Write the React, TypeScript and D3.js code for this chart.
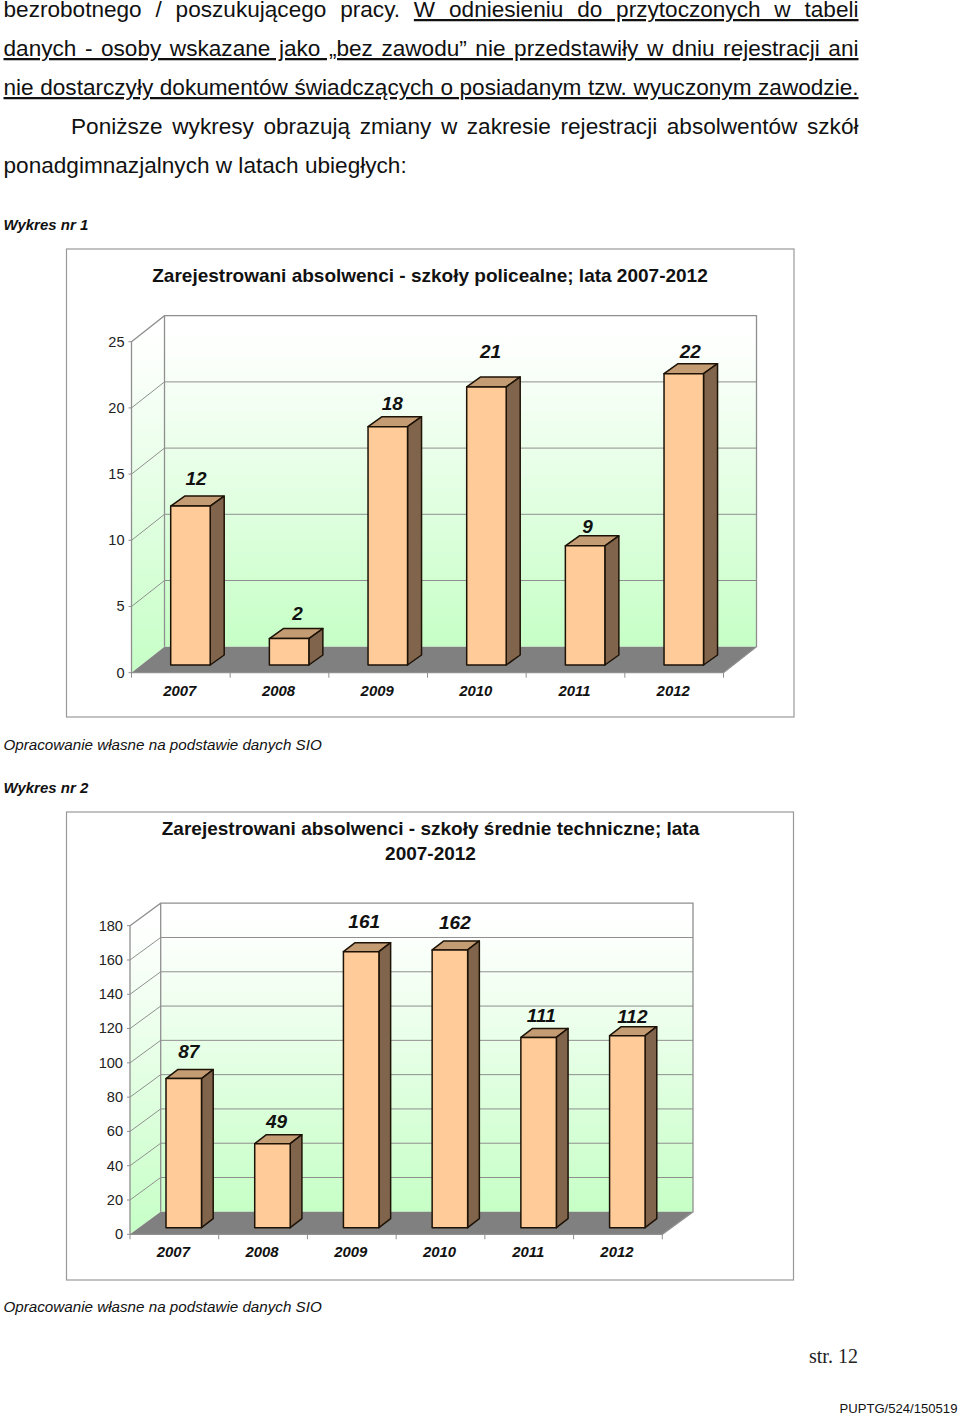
import React, { useEffect, useRef } from "react";
import * as d3 from "d3";

const FONT = "'Liberation Sans', Arial, sans-serif";
const years = ["2007", "2008", "2009", "2010", "2011", "2012"];
const policealneValues = [12, 2, 18, 21, 9, 22];
const policealneTicks = [0, 5, 10, 15, 20, 25];
const policealneLabelDx = [5.5, 8.5, 4.5, 4, 2.5, 6.5];
const policealneLabelDy = [-21, -18.5, -16.5, -29, -12.5, -16];
const techniczneValues = [87, 49, 161, 162, 111, 112];
const techniczneTicks = [0, 20, 40, 60, 80, 100, 120, 140, 160, 180];
const techniczneLabelDx = [5, 4, 3, 5, 2.7, 5];
const techniczneLabelDy = [-20.6, -16, -24, -21, -15, -13];

const bodyPlain1 = "bezrobotnego / poszukującego pracy. ";
const bodyUnder1 = "W odniesieniu do przytoczonych w tabeli";
const bodyLine2 = "danych - osoby wskazane jako „bez zawodu” nie przedstawiły w dniu rejestracji ani";
const bodyLine3 = "nie dostarczyły dokumentów świadczących o posiadanym tzw. wyuczonym zawodzie.";
const bodyLine4 = "Poniższe wykresy obrazują zmiany w zakresie rejestracji absolwentów szkół";
const bodyLine5 = "ponadgimnazjalnych w latach ubiegłych:";
const title1 = ["Zarejestrowani absolwenci - szkoły policealne; lata 2007-2012"];
const title2 = ["Zarejestrowani absolwenci - szkoły średnie techniczne; lata", "2007-2012"];
const sourceNote = "Opracowanie własne na podstawie danych SIO";

type ChartProps = {
  id: string; values: number[]; ticks: number[]; maxV: number;
  labelDx: number[]; labelDy: number[]; title: string[]; titleY: number[];
  frame: [number, number, number, number];
  x0: number; x1: number; y0: number; yMax: number; depthX: number; depthY: number;
  barInset: number; barW: number; barLift: number; barDX: number; barDY: number;
  yearY: number; tickX: number; titleX: number;
};

function Chart3D(p: ChartProps) {
  const y = d3.scaleLinear().domain([0, p.maxV]).range([p.y0, p.yMax]);
  const x = d3.scaleBand<string>().domain(years).range([p.x0, p.x1]);
  const step = x.step();
  const bx0 = p.x0 + p.depthX, bx1 = p.x1 + p.depthX;
  const backY = (v: number) => y(v) + p.depthY;
  const grey = "#8f8f8f";
  const pts = (a: number[][]) => a.map((c) => c.join(",")).join(" ");
  return (
    <g fontFamily={FONT}>
      <defs>
        <linearGradient id={p.id} x1="0" x2="0" y1="0" y2="1">
          <stop offset="0" stopColor="#ffffff" />
          <stop offset="0.1" stopColor="#fdfffd" />
          <stop offset="1" stopColor="#c6ffc6" />
        </linearGradient>
      </defs>
      <rect x={p.frame[0]} y={p.frame[1]} width={p.frame[2] - p.frame[0]} height={p.frame[3] - p.frame[1]}
        fill="#fff" stroke="#999" strokeWidth={1.2} />
      {p.title.map((t, i) => (
        <text key={i} x={p.titleX} y={p.titleY[i]} textAnchor="middle" fontSize={19} fontWeight="bold" fill="#111">{t}</text>
      ))}
      <rect x={bx0} y={backY(p.maxV)} width={bx1 - bx0} height={backY(0) - backY(p.maxV)} fill={`url(#${p.id})`} />
      <polygon points={pts([[p.x0, y(p.maxV)], [bx0, backY(p.maxV)], [bx0, backY(0)], [p.x0, y(0)]])} fill={`url(#${p.id})`} />
      <polygon points={pts([[p.x0, y(0)], [p.x1, y(0)], [bx1, backY(0)], [bx0, backY(0)]])} fill="#808080" />
      {p.ticks.map((t) => (
        <g key={t}>
          {t > 0 && t < p.maxV && <line x1={bx0} x2={bx1} y1={backY(t)} y2={backY(t)} stroke={grey} strokeWidth={1} />}
          {t > 0 && t < p.maxV && <line x1={p.x0} x2={bx0} y1={y(t)} y2={backY(t)} stroke={grey} strokeWidth={1} />}
          <line x1={p.x0 - 3} x2={p.x0} y1={y(t)} y2={y(t)} stroke={grey} strokeWidth={1} />
          <text x={p.tickX} y={y(t) + 4.8} textAnchor="end" fontSize={14.6} fill="#222">{t}</text>
        </g>
      ))}
      <polygon points={pts([[p.x0, y(p.maxV)], [bx0, backY(p.maxV)], [bx1, backY(p.maxV)], [bx1, backY(0)], [p.x1, y(0)], [p.x0, y(0)]])}
        fill="none" stroke={grey} strokeWidth={1.3} />
      <line x1={bx0} x2={bx0} y1={backY(p.maxV)} y2={backY(0)} stroke={grey} strokeWidth={1.3} />
      {d3.range(years.length + 1).map((i) => (
        <line key={i} x1={p.x0 + i * step} x2={p.x0 + i * step} y1={y(0)} y2={y(0) + 5} stroke={grey} strokeWidth={1} />
      ))}
      {years.map((yr) => (
        <text key={yr} x={(x(yr) as number) + step / 2 - 1} y={p.yearY} textAnchor="middle" fontSize={14.9} fontWeight="bold" fontStyle="italic" fill="#111">{yr}</text>
      ))}
      {p.values.map((v, i) => {
        const left = (x(years[i]) as number) + p.barInset;
        const right = left + p.barW;
        const bottom = y(0) - p.barLift;
        const top = y(v) - p.barLift;
        const s = { stroke: "#1d1206", strokeWidth: 1.5, strokeLinejoin: "round" as const };
        return (
          <g key={years[i]}>
            <polygon points={pts([[left, top], [right, top], [right + p.barDX, top + p.barDY], [left + p.barDX, top + p.barDY]])} fill="#c49c74" {...s} />
            <polygon points={pts([[right, top], [right + p.barDX, top + p.barDY], [right + p.barDX, bottom + p.barDY], [right, bottom]])} fill="#80654c" {...s} />
            <rect x={left} y={top} width={p.barW} height={bottom - top} fill="#ffcc99" {...s} />
            <text x={left + p.barW / 2 + p.labelDx[i]} y={top + p.labelDy[i]} textAnchor="middle" fontSize={19} fontWeight="bold" fontStyle="italic" fill="#111">{v}</text>
          </g>
        );
      })}
    </g>
  );
}

function Justified({ x, y, width, children }: { x: number; y: number; width: number; children: React.ReactNode }) {
  const ref = useRef<SVGTextElement>(null);
  useEffect(() => {
    const el = ref.current;
    if (!el) return;
    const sel = d3.select(el);
    sel.style("word-spacing", "0px");
    const natural = el.getComputedTextLength();
    const spaces = ((el.textContent || "").match(/ /g) || []).length;
    sel.style("word-spacing", `${(width - natural) / spaces}px`);
  }, [width]);
  return <text ref={ref} x={x} y={y} xmlSpace="preserve" style={{ whiteSpace: "pre" }} fontSize={22.6} fontFamily={FONT} fill="#111">{children}</text>;
}

export default function App() {
  const meta = { fontFamily: FONT, fill: "#111" };
  return (
    <svg width={960} height={1416} viewBox="0 0 960 1416" style={{ position: "absolute", left: 0, top: 0, background: "#fff" }}>
      <Justified x={3.5} y={17} width={855}>
        {bodyPlain1}<tspan textDecoration="underline">{bodyUnder1}</tspan>
      </Justified>
      <Justified x={3.5} y={56} width={855}><tspan textDecoration="underline">{bodyLine2}</tspan></Justified>
      <Justified x={3.5} y={95} width={855}><tspan textDecoration="underline">{bodyLine3}</tspan></Justified>
      <Justified x={71} y={134} width={787.5}>{bodyLine4}</Justified>
      <text x={3.5} y={173} fontSize={22.6} {...meta}>{bodyLine5}</text>

      <text x={3.5} y={230} fontSize={15} fontWeight="bold" fontStyle="italic" {...meta}>Wykres nr 1</text>
      <Chart3D id="g1" values={policealneValues} ticks={policealneTicks} maxV={25}
        labelDx={policealneLabelDx} labelDy={policealneLabelDy} title={title1} titleY={[282]} titleX={430}
        frame={[66.5, 249, 794, 717]} x0={131.5} x1={723.5} y0={672.7} yMax={341.7} depthX={33} depthY={-26}
        barInset={39.2} barW={39.5} barLift={7.7} barDX={14} barDY={-10} yearY={695.6} tickX={124.5} />
      <text x={3.5} y={750} fontSize={15.2} fontStyle="italic" {...meta}>{sourceNote}</text>

      <text x={3.5} y={793} fontSize={15} fontWeight="bold" fontStyle="italic" {...meta}>Wykres nr 2</text>
      <Chart3D id="g2" values={techniczneValues} ticks={techniczneTicks} maxV={180}
        labelDx={techniczneLabelDx} labelDy={techniczneLabelDy} title={title2} titleY={[835, 860]} titleX={430.5}
        frame={[66.5, 812, 793.5, 1280]} x0={130} x1={662.3} y0={1234.3} yMax={925.7} depthX={30.7} depthY={-22.5}
        barInset={36} barW={35.5} barLift={6.6} barDX={11.7} barDY={-9} yearY={1257} tickX={123} />
      <text x={3.5} y={1312} fontSize={15.2} fontStyle="italic" {...meta}>{sourceNote}</text>

      <text x={809} y={1362.7} fontSize={20} fontFamily="'Liberation Serif', serif" fill="#222">str. 12</text>
      <text x={839.5} y={1412.7} fontSize={13.1} {...meta}>PUPTG/524/150519</text>
    </svg>
  );
}
